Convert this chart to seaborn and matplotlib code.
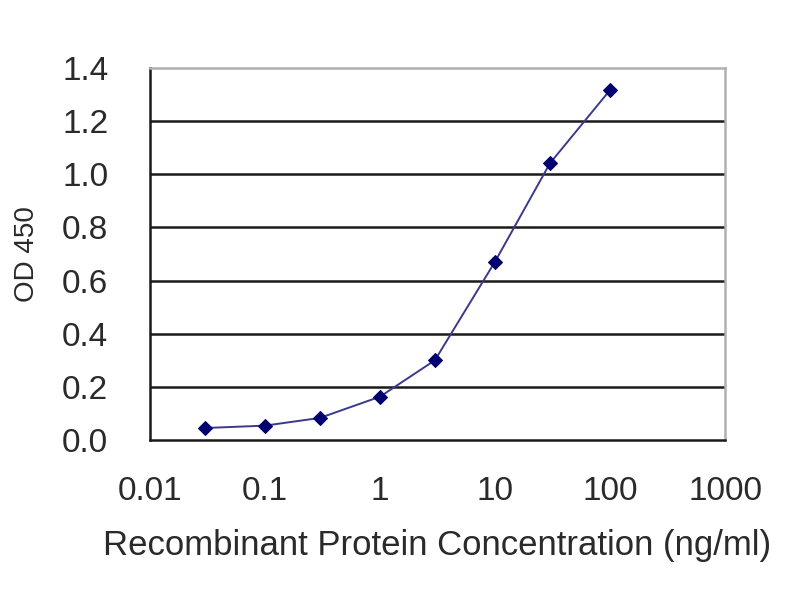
import matplotlib
matplotlib.use("Agg")
import matplotlib.pyplot as plt
import seaborn as sns
import pandas as pd

# Concentration (ng/ml) and OD 450 readings
concentration = [0.03, 0.1, 0.3, 1, 3, 10, 30, 100]
od450 = [0.045, 0.054, 0.083, 0.163, 0.30, 0.671, 1.041, 1.317]

x_ticks = [0.01, 0.1, 1, 10, 100, 1000]
x_tick_labels = ["0.01", "0.1", "1", "10", "100", "1000"]
y_ticks = [0.0, 0.2, 0.4, 0.6, 0.8, 1.0, 1.2, 1.4]

sns.set_style("white")
plt.rcParams["font.family"] = ["Liberation Sans", "DejaVu Sans"]

df = pd.DataFrame({"conc": concentration, "od": od450})

fig = plt.figure(figsize=(8, 6), dpi=100)
ax = fig.add_axes([0.1875, 0.2667, 0.7188, 0.62])

# horizontal gridlines like the original
for y in y_ticks[1:-1]:
    ax.axhline(y, color="#1a1a1a", linewidth=1.8, zorder=1)

sns.lineplot(data=df, x="conc", y="od", ax=ax, color="#3a3a8c", linewidth=1.4,
             marker="D", markersize=7.5, markerfacecolor="#000070",
             markeredgecolor="#000070", zorder=3)

ax.set_xscale("log")
ax.set_xlim(0.01, 1000)
ax.set_ylim(0, 1.4)
ax.set_xticks(x_ticks)
ax.set_xticklabels(x_tick_labels)
ax.minorticks_off()
ax.set_yticks(y_ticks)
ax.set_yticklabels([f"{v:.1f}" for v in y_ticks])
ax.tick_params(axis="both", labelsize=24, colors="#2a2a2a", length=0)
ax.tick_params(axis="y", pad=30)
ax.tick_params(axis="x", length=4, direction="in", pad=26, color="#222222")

ax.set_xlabel("Recombinant Protein Concentration (ng/ml)", fontsize=25,
              color="#2a2a2a", labelpad=16)
ax.set_ylabel("OD 450", fontsize=20, color="#2a2a2a", labelpad=16)

for side in ["left", "bottom"]:
    ax.spines[side].set_color("#1a1a1a")
    ax.spines[side].set_linewidth(1.8)
for side in ["top", "right"]:
    ax.spines[side].set_color("#b0b0b0")
    ax.spines[side].set_linewidth(1.8)

fig.savefig("out.png", dpi=100)
